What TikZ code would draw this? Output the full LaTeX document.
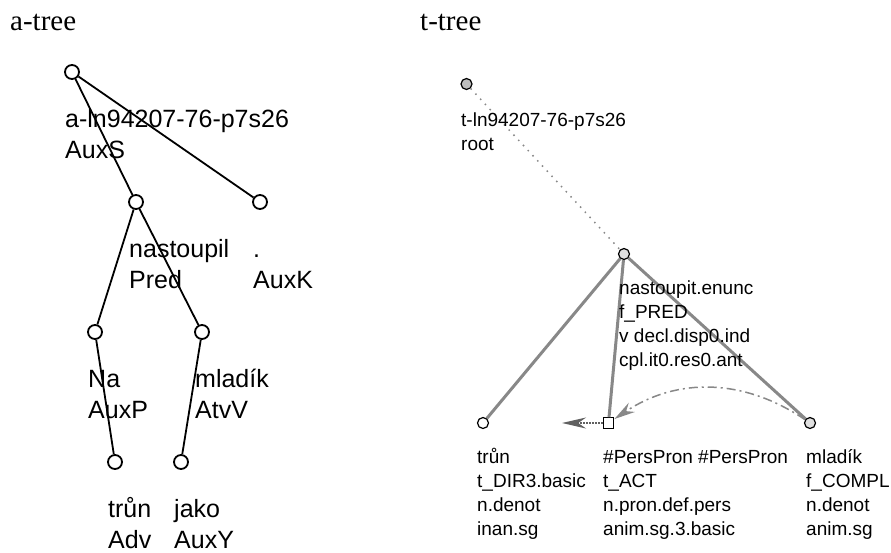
\documentclass[tikz,border=0pt]{standalone}
\usepackage{fontspec}
\setmainfont{Liberation Serif}
\setsansfont{Liberation Sans}
\usetikzlibrary{arrows.meta}
\definecolor{edgegray}{RGB}{136,136,136}
\definecolor{arrowgray}{RGB}{96,96,96}
\definecolor{rootfill}{RGB}{190,190,190}
\definecolor{nodefill}{RGB}{224,224,224}
\tikzset{
  anode/.style={circle,draw,line width=1.8pt,fill=white,inner sep=0pt,minimum size=14pt},
  tnode/.style={circle,draw,line width=1.2pt,fill=white,inner sep=0pt,minimum size=11pt},
  tbox/.style={rectangle,draw,line width=1.2pt,fill=white,inner sep=0pt,minimum size=10.5pt},
  alabel/.style={anchor=base west,align=left,inner sep=0pt,font=\sffamily\fontsize{25}{31}\selectfont},
  tlabel/.style={anchor=base west,align=left,inner sep=0pt,font=\sffamily\fontsize{19}{23.7}\selectfont},
  treetitle/.style={anchor=base west,inner sep=0pt,font=\fontsize{29}{30}\selectfont},
  aedge/.style={line width=1.8pt},
  tedge/.style={line width=3pt,edgegray},
}
\begin{document}
\begin{tikzpicture}[x=1pt,y=-1pt]
\useasboundingbox (0,0) rectangle (891,552);
\node[treetitle] (atitle) at (10,30) {a-tree};
\node[treetitle] (ttitle) at (420,30) {t-tree};
% analytical tree
\node[anode] (aroot) at (72,72) {};
\node[anode] (apred) at (136,202) {};
\node[anode] (auxk) at (260,202) {};
\node[anode] (auxp) at (95,332) {};
\node[anode] (atvv) at (202,332) {};
\node[anode] (aadv) at (115,462) {};
\node[anode] (auxy) at (181,462) {};
\draw[aedge] (aroot) -- (apred);
\draw[aedge] (aroot) -- (auxk);
\draw[aedge] (apred) -- (auxp);
\draw[aedge] (apred) -- (atvv);
\draw[aedge] (auxp) -- (aadv);
\draw[aedge] (atvv) -- (auxy);
% labels sit on the baseline of their last line
\node[alabel] (aroot-l) at (65,158) {a-ln94207-76-p7s26\\AuxS};
\node[alabel] (apred-l) at (129,288) {nastoupil\\Pred};
\node[alabel] (auxk-l) at (253,288) {.\\AuxK};
\node[alabel] (auxp-l) at (88,418) {Na\\AuxP};
\node[alabel] (atvv-l) at (195,418) {mladík\\AtvV};
\node[alabel] (aadv-l) at (108,548) {trůn\\Adv};
\node[alabel] (auxy-l) at (174,548) {jako\\AuxY};
% tectogrammatical tree
\node[tnode,fill=rootfill] (troot) at (466.5,84) {};
\node[tnode,fill=nodefill] (tpred) at (624,254) {};
\node[tnode] (tdir) at (483,423) {};
\node[tbox] (tact) at (608.5,423) {};
\node[tnode,fill=nodefill] (tcompl) at (810,423) {};
\coordinate (tact-to) at (562,423);
\draw[edgegray,line width=1.5pt,dash pattern=on 1.5pt off 5.5pt] (troot) -- (tpred);
\draw[tedge] (tpred) -- (tdir);
\draw[tedge] (tpred) -- (tact);
\draw[tedge] (tpred) -- (tcompl);
\draw[arrowgray,line width=2pt,dash pattern=on 1.5pt off 1.5pt,-{Stealth[length=24pt,width=11pt]}] (tact) -- (tact-to);
\draw[edgegray,line width=1.5pt,dash pattern=on 9pt off 4pt on 2pt off 4pt,-{Stealth[length=21pt,width=11pt]}] (tcompl) to[bend right=34] (tact);
\node[tlabel] (troot-l) at (461,150) {t-ln94207-76-p7s26\\root};
\node[tlabel] (tpred-l) at (619,366) {nastoupit.enunc\\f\_PRED\\v decl.disp0.ind\\cpl.it0.res0.ant};
\node[tlabel] (tdir-l) at (477,535) {trůn\\t\_DIR3.basic\\n.denot\\inan.sg};
\node[tlabel] (tact-l) at (603,535) {\#PersPron \#PersPron\\t\_ACT\\n.pron.def.pers\\anim.sg.3.basic};
\node[tlabel] (tcompl-l) at (806,535) {mladík\\f\_COMPL\\n.denot\\anim.sg};
\end{tikzpicture}
\end{document}
